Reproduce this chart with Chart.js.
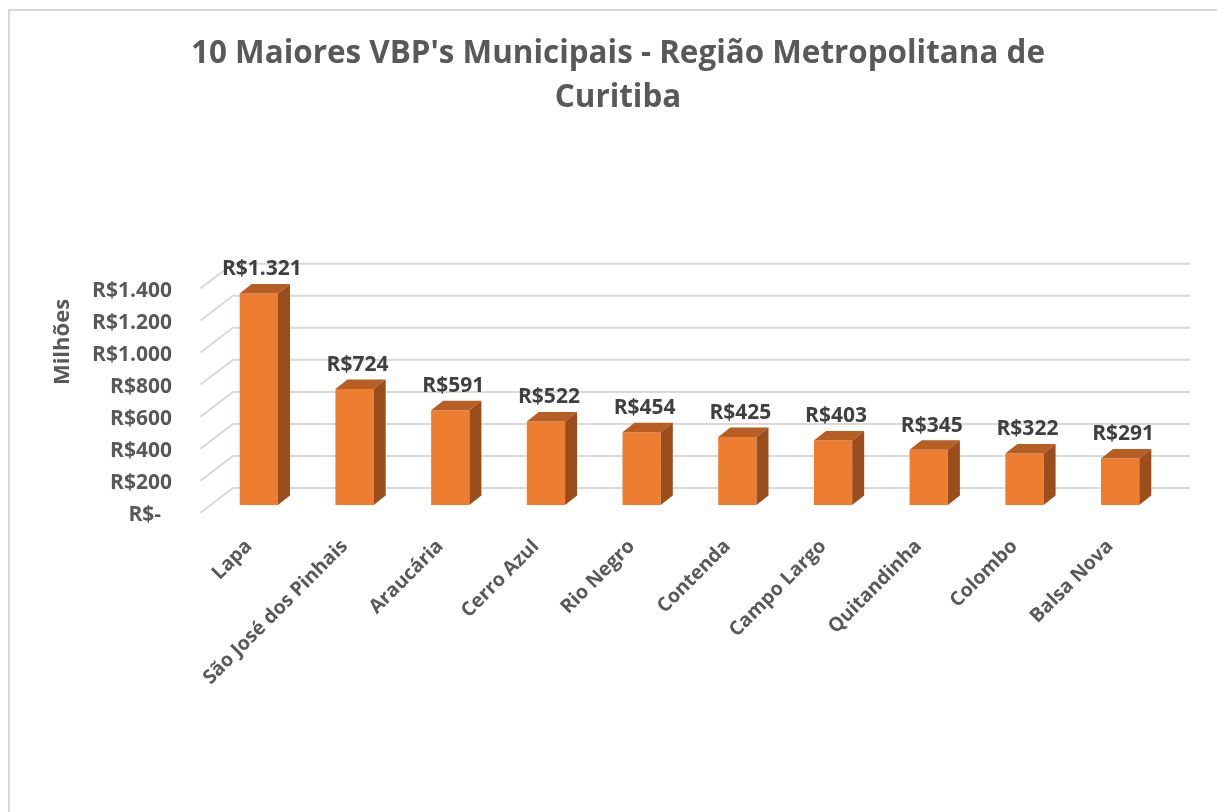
<!DOCTYPE html>
<html lang="pt-BR">
<head>
<meta charset="utf-8">
<title>10 Maiores VBP's Municipais - Região Metropolitana de Curitiba</title>
<script src="https://cdn.jsdelivr.net/npm/chart.js@4.4.1/dist/chart.umd.min.js"></script>
<style>
  html, body { margin: 0; padding: 0; background: #fff; overflow: hidden; }
  .moldura { position: absolute; left: 8px; top: 9px; width: 1400px; height: 1000px; border: 2px solid #d9d9d9; }
  canvas { position: absolute; left: 0; top: 0; }
</style>
</head>
<body>
<div class="moldura"></div>
<canvas id="grafico" width="1217" height="812"></canvas>
<script>
// Dados (valores em milhões de R$)
const municipios = ['Lapa', 'São José dos Pinhais', 'Araucária', 'Cerro Azul', 'Rio Negro',
    'Contenda', 'Campo Largo', 'Quitandinha', 'Colombo', 'Balsa Nova'];
const vbpMilhoes = [1321, 724, 591, 522, 454, 425, 403, 345, 322, 291];
const eixoMin = 0;
const eixoMax = 1400;
const eixoPasso = 200;

const FONTE = '"Open Sans", "DejaVu Sans", sans-serif';
const COR_TEXTO = '#595959';
const COR_ROTULO = '#404040';
const COR_FRENTE = '#ed7d31';
const COR_TOPO = '#b65e24';
const COR_LADO = '#9b4d1c';

// deslocamentos da "perspectiva" 3D, em relação ao plano das barras
const FUNDO = { dx: 22, dy: -17 };
const FRENTE = { dx: -10.6, dy: 7.7 };
const PROF = { dx: 12, dy: -9.5 };

function formatarReais(v) {
    if (v === 0) return 'R$-  ';
    return 'R$' + String(v).replace(/\B(?=(\d{3})+(?!\d))/g, '.');
}

// grade na parede do fundo + diagonais até a frente
const grade3d = {
    id: 'grade3d',
    beforeDatasetsDraw(chart) {
        const { ctx, chartArea, scales: { y } } = chart;
        ctx.save();
        ctx.strokeStyle = '#d9d9d9';
        ctx.lineWidth = 2;
        y.ticks.forEach(t => {
            const py = y.getPixelForValue(t.value);
            const yb = py + FUNDO.dy;
            ctx.beginPath();
            ctx.moveTo(chartArea.left + FRENTE.dx, py + FRENTE.dy);
            ctx.lineTo(chartArea.left + FUNDO.dx, yb);
            ctx.lineTo(chartArea.right + FUNDO.dx, yb);
            ctx.stroke();
        });
        ctx.restore();
    }
};

// topo e lateral das barras + rótulos de dados
const barras3d = {
    id: 'barras3d',
    afterDatasetsDraw(chart) {
        const ctx = chart.ctx;
        const meta = chart.getDatasetMeta(0);
        ctx.save();
        meta.data.forEach((bar, i) => {
            const { x, y, base, width } = bar.getProps(['x', 'y', 'base', 'width'], true);
            const l = x - width / 2;
            const r = x + width / 2;

            ctx.fillStyle = COR_TOPO;
            ctx.beginPath();
            ctx.moveTo(l, y);
            ctx.lineTo(l + PROF.dx, y + PROF.dy);
            ctx.lineTo(r + PROF.dx, y + PROF.dy);
            ctx.lineTo(r, y);
            ctx.closePath();
            ctx.fill();

            ctx.fillStyle = COR_LADO;
            ctx.beginPath();
            ctx.moveTo(r, y);
            ctx.lineTo(r + PROF.dx, y + PROF.dy);
            ctx.lineTo(r + PROF.dx, base + PROF.dy);
            ctx.lineTo(r, base);
            ctx.closePath();
            ctx.fill();

            ctx.fillStyle = COR_ROTULO;
            ctx.font = 'bold 21px ' + FONTE;
            ctx.textAlign = 'center';
            ctx.textBaseline = 'alphabetic';
            ctx.fillText(formatarReais(vbpMilhoes[i]), x + 3, y - 18);
        });
        ctx.restore();
    }
};

// título do eixo vertical
const tituloEixoY = {
    id: 'tituloEixoY',
    afterDraw(chart) {
        const ctx = chart.ctx;
        ctx.save();
        ctx.translate(63, 342);
        ctx.rotate(-Math.PI / 2);
        ctx.fillStyle = COR_TEXTO;
        ctx.font = 'bold 22px ' + FONTE;
        ctx.textAlign = 'center';
        ctx.textBaseline = 'middle';
        ctx.fillText('Milhões', 0, 0);
        ctx.restore();
    }
};

new Chart(document.getElementById('grafico'), {
    type: 'bar',
    data: {
        labels: municipios,
        datasets: [{
            label: 'VBP (milhões)',
            data: vbpMilhoes,
            backgroundColor: COR_FRENTE,
            borderWidth: 0,
            barPercentage: 0.4,
            categoryPercentage: 1.0
        }]
    },
    options: {
        responsive: false,
        animation: false,
        devicePixelRatio: 1,
        layout: {
            padding: { left: 68, right: 49, top: 0, bottom: 57 }
        },
        plugins: {
            legend: { display: false },
            tooltip: { enabled: false },
            title: {
                display: true,
                text: ["10 Maiores VBP's Municipais - Região Metropolitana de", 'Curitiba'],
                color: COR_TEXTO,
                font: { family: FONTE, size: 31.4, weight: 'bold', lineHeight: 1.4 },
                padding: { top: 32, bottom: 160.8 }
            }
        },
        scales: {
            x: {
                grid: { display: false },
                border: { display: false },
                afterFit: (scale) => { scale.height = 250; },
                ticks: {
                    autoSkip: false,
                    maxRotation: 45,
                    minRotation: 45,
                    padding: 22,
                    labelOffset: -10,
                    color: COR_TEXTO,
                    font: { family: FONTE, size: 19.5, weight: 'bold' }
                }
            },
            y: {
                min: eixoMin,
                max: eixoMax,
                grid: { display: false },
                border: { display: false },
                afterFit: (scale) => { scale.width = 143; },
                ticks: {
                    stepSize: eixoPasso,
                    padding: 31,
                    labelOffset: 10,
                    color: COR_TEXTO,
                    font: { family: FONTE, size: 21, weight: 'bold' },
                    callback: (v) => formatarReais(v)
                }
            }
        }
    },
    plugins: [grade3d, barras3d, tituloEixoY]
});
</script>
</body>
</html>
